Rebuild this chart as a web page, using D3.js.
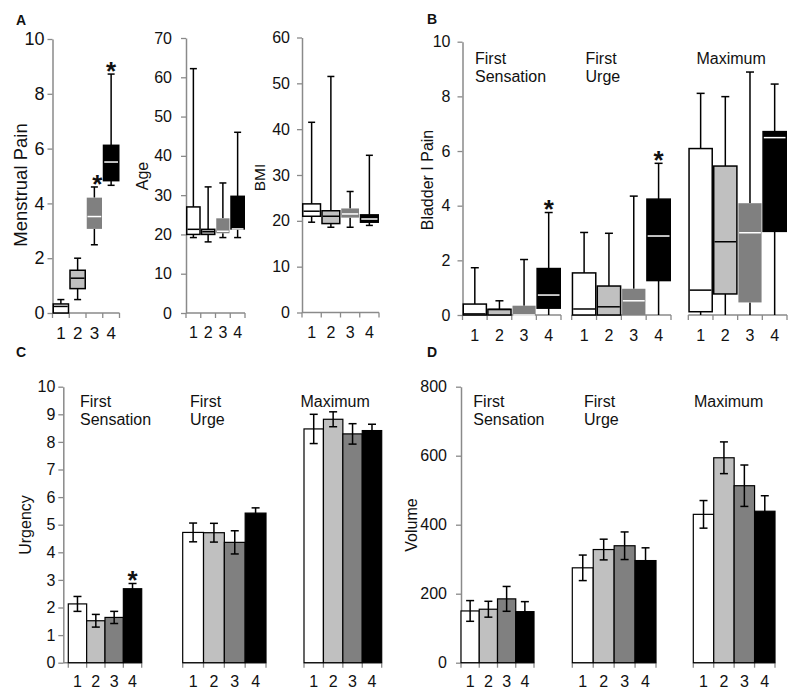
<!DOCTYPE html>
<html><head><meta charset="utf-8">
<script src="https://cdn.jsdelivr.net/npm/d3@7"></script>
<style>
body{margin:0;background:#fff}
svg{display:block}
text{font-family:"Liberation Sans",Arial,sans-serif;fill:#111}
</style>
</head><body>
<svg id="chart" width="800" height="700"></svg>
<script>
// ---------------- DATA ----------------
const groups = ["1", "2", "3", "4"];
const phases = ["First Sensation", "First Urge", "Maximum"];
// box statistics per group: [min, q1, median, q3, max]
const menstrualPain = [[0, 0, 0.24, 0.33, 0.49], [0.49, 0.89, 1.27, 1.56, 2.0], [2.49, 3.07, 3.52, 4.21, 4.6], [4.66, 4.83, 5.51, 6.12, 8.72]];
const age = [[19.2, 20, 21.3, 27.0, 62.2], [18.1, 20, 20.7, 21.3, 32.1], [19.2, 20.3, 20.8, 24.1, 33.1], [19.2, 21.4, 21.4, 29.7, 46]];
const bmi = [[19.7, 21.0, 22.1, 23.7, 41.5], [18.6, 19.4, 21.0, 22.2, 51.5], [18.6, 20.7, 21.5, 22.7, 26.4], [19.0, 19.7, 20.4, 21.3, 34.3]];
const bladderFirstSensation = [[0, 0, 0.04, 0.4, 1.73], [0, 0, 0.2, 0.21, 0.52], [0, 0, 0, 0.34, 2.03], [0, 0.25, 0.73, 1.7, 3.75]];
const bladderFirstUrge = [[0, 0, 0.22, 1.54, 3.02], [0, 0, 0.3, 1.06, 2.99], [0, 0, 0.52, 0.96, 4.35], [0, 1.26, 2.89, 4.24, 5.55]];
const bladderMaximum = [[0, 0.12, 0.91, 6.09, 8.11], [0, 0.77, 2.68, 5.45, 7.99], [0, 0.46, 3.01, 4.09, 8.89], [0, 3.06, 6.49, 6.71, 8.45]];
// bar charts: mean and error (SE) per phase, per group
const urgencyMean = [[2.13, 1.52, 1.64, 2.68], [4.72, 4.71, 4.36, 5.42], [8.47, 8.82, 8.29, 8.41]];
const urgencyErr = [[0.27, 0.23, 0.22, 0.19], [0.34, 0.34, 0.42, 0.19], [0.53, 0.27, 0.37, 0.23]];
const volumeMean = [[150, 155, 185, 148], [275, 328, 339, 296], [430, 594, 513, 439]];
const volumeErr = [[30, 23, 36, 29], [37, 30, 40, 37], [40, 46, 60, 45]];
// significance markers
const menstrualSig = [0, 0, 1, 1];
const bladderSig = [[0, 0, 0, 1], [0, 0, 0, 1], [0, 0, 0, 0]];
const urgencySig = [[0, 0, 0, 1], [0, 0, 0, 0], [0, 0, 0, 0]];
// tick values
const ticksMenstrual = [0, 2, 4, 6, 8, 10];
const ticksAge = [0, 10, 20, 30, 40, 50, 60, 70];
const ticksBmi = [0, 10, 20, 30, 40, 50, 60];
const ticksBladder = [0, 2, 4, 6, 8, 10];
const ticksUrgency = [0, 1, 2, 3, 4, 5, 6, 7, 8, 9, 10];
const ticksVolume = [0, 200, 400, 600, 800];

// ---------------- STYLE ----------------
const FILL = ["#ffffff", "#c0c0c0", "#808080", "#000000"];
const BOXSTROKE = ["#000", "#000", "none", "#000"];
const MEDIAN = ["#000", "#000", "#fff", "#fff"];
const AXIS = "#8a8a8a";
const FS = 16;

const svg = d3.select("#chart");

function yAxis(x0, y, ticks, pad, fs) {
  const g = svg.append("g").attr("transform", `translate(${x0},0)`)
    .call(d3.axisLeft(y).tickValues(ticks).tickSize(5).tickSizeOuter(0).tickPadding(pad));
  g.select(".domain").attr("stroke", AXIS).attr("stroke-width", 1.5);
  g.selectAll(".tick line").attr("stroke", AXIS).attr("stroke-width", 1.3);
  g.selectAll(".tick text").attr("font-size", fs || FS).attr("font-family", "Liberation Sans, Arial, sans-serif").attr("fill", "#111");
  return g;
}
function xAxis(x, yPos, x1, labelDy, fs) {
  const r = x.range();
  const start = x1 !== undefined ? x1 : r[0];
  svg.append("line").attr("x1", start).attr("x2", r[1]).attr("y1", yPos).attr("y2", yPos)
    .attr("stroke", AXIS).attr("stroke-width", 1.5);
  const edges = groups.map(g => x(g)).concat([r[1]]);
  svg.selectAll(null).data(edges).enter().append("line")
    .attr("x1", d => d).attr("x2", d => d).attr("y1", yPos).attr("y2", yPos + 5)
    .attr("stroke", AXIS).attr("stroke-width", 1.3);
  svg.selectAll(null).data(groups).enter().append("text")
    .attr("x", d => x(d) + x.bandwidth() / 2).attr("y", yPos + labelDy)
    .attr("text-anchor", "middle").attr("font-size", fs || FS).text(d => d);
}
function yTitle(txt, cx, cy, fs) {
  svg.append("text").attr("transform", `translate(${cx},${cy}) rotate(-90)`)
    .attr("text-anchor", "middle").attr("dominant-baseline", "central")
    .attr("font-size", fs || FS).text(txt);
}
function star(cx, cyTop) {
  svg.append("text").attr("x", cx).attr("y", cyTop - 9 + 0.56 * 26)
    .attr("text-anchor", "middle").attr("font-size", 26).attr("font-weight", "bold").text("*");
}
function boxes(x, y, data, capW, sig) {
  data.forEach((d, i) => {
    const [mn, q1, md, q3, mx] = d;
    const x0 = x(groups[i]), w = x.bandwidth(), cx = x0 + w / 2;
    const g = svg.append("g");
    g.append("line").attr("x1", cx).attr("x2", cx).attr("y1", y(mx)).attr("y2", y(q3)).attr("stroke", "#000").attr("stroke-width", 1.5);
    g.append("line").attr("x1", cx).attr("x2", cx).attr("y1", y(q1)).attr("y2", y(mn)).attr("stroke", "#000").attr("stroke-width", 1.5);
    g.append("line").attr("x1", cx - capW / 2).attr("x2", cx + capW / 2).attr("y1", y(mx)).attr("y2", y(mx)).attr("stroke", "#000").attr("stroke-width", 1.5);
    if (mn > 0) g.append("line").attr("x1", cx - capW / 2).attr("x2", cx + capW / 2).attr("y1", y(mn)).attr("y2", y(mn)).attr("stroke", "#000").attr("stroke-width", 1.5);
    g.append("rect").attr("x", x0 + 0.75).attr("width", w - 1.5).attr("y", y(q3)).attr("height", Math.max(0.5, y(q1) - y(q3)))
      .attr("fill", FILL[i]).attr("stroke", BOXSTROKE[i]).attr("stroke-width", 1.5);
    g.append("line").attr("x1", x0 + 1.5).attr("x2", x0 + w - 1.5).attr("y1", y(md)).attr("y2", y(md))
      .attr("stroke", MEDIAN[i]).attr("stroke-width", 1.5);
    if (sig && sig[i]) star(cx + (i === 2 ? 3 : 0), y(mx));
  });
}
function bars(x, y, means, errs, sig) {
  means.forEach((m, i) => {
    const x0 = x(groups[i]), w = x.bandwidth(), cx = x0 + w / 2;
    svg.append("rect").attr("x", x0).attr("width", w).attr("y", y(m)).attr("height", y(0) - y(m))
      .attr("fill", FILL[i]).attr("stroke", "#000").attr("stroke-width", 1.2);
    const e = errs[i], capW = 8;
    svg.append("line").attr("x1", cx).attr("x2", cx).attr("y1", y(m + e)).attr("y2", y(m - e)).attr("stroke", "#000").attr("stroke-width", 1.5);
    [m + e, m - e].forEach(v => svg.append("line").attr("x1", cx - capW / 2).attr("x2", cx + capW / 2)
      .attr("y1", y(v)).attr("y2", y(v)).attr("stroke", "#000").attr("stroke-width", 1.5));
    if (sig && sig[i]) star(cx, y(m + e));
  });
}
function phaseLabels(xs, yTop) {
  phases.forEach((p, k) => {
    const words = p.split(" ");
    const t = svg.append("text").attr("x", xs[k]).attr("y", yTop).attr("font-size", FS);
    words.forEach((w, j) => t.append("tspan").attr("x", xs[k]).attr("dy", j === 0 ? 0 : 18).text(w));
  });
}
function panelLetter(l, x, y) {
  svg.append("text").attr("x", x).attr("y", y).attr("font-size", 14).attr("font-weight", "bold").text(l);
}

// ---------------- PANEL A ----------------
panelLetter("A", 16, 25);
{
  const y = d3.scaleLinear().domain([0, 10]).range([313, 39]);
  const x = d3.scaleBand().domain(groups).range([52.5, 119.5]);
  yAxis(52.5, y, ticksMenstrual, 3, 18);
  xAxis(x, 313, undefined, 26, 17);
  boxes(x, y, menstrualPain, 7, menstrualSig);
  yTitle("Menstrual Pain", 20, 185, 18.5);
}
{
  const y = d3.scaleLinear().domain([0, 70]).range([313, 38]);
  const x = d3.scaleBand().domain(groups).range([186, 245]);
  yAxis(186, y, ticksAge, 9, 16);
  xAxis(x, 313, undefined, 25, 16);
  boxes(x, y, age, 7);
  yTitle("Age", 142.5, 176, 16);
}
{
  const y = d3.scaleLinear().domain([0, 60]).range([312.5, 37.5]);
  const x = d3.scaleBand().domain(groups).range([302, 379]);
  yAxis(302, y, ticksBmi, 7, 16);
  xAxis(x, 312.5, undefined, 25, 16);
  boxes(x, y, bmi, 7);
  yTitle("BMI", 259, 177.5, 15.5);
}

// ---------------- PANEL B ----------------
panelLetter("B", 427, 24);
{
  const y = d3.scaleLinear().domain([0, 10]).range([315, 41.7]);
  yAxis(462.5, y, ticksBladder, 7, 16);
  const ranges = [[462.5, 561], [571.7, 671], [688.3, 787]];
  const sets = [bladderFirstSensation, bladderFirstUrge, bladderMaximum];
  ranges.forEach((r, k) => {
    const x = d3.scaleBand().domain(groups).range(r);
    xAxis(x, 315, undefined, 26, 16);
    boxes(x, y, sets[k], 8, bladderSig[k]);
  });
  phaseLabels([475, 585.5, 696.5], 64);
  yTitle("Bladder I Pain", 427.5, 180, 16);
}

// ---------------- PANEL C ----------------
panelLetter("C", 16, 357);
{
  const y = d3.scaleLinear().domain([0, 10]).range([662.7, 386.7]);
  yAxis(63.3, y, ticksUrgency, 3, 16);
  const ranges = [[68.3, 141.7], [182.7, 266], [304, 381.7]];
  ranges.forEach((r, k) => {
    const x = d3.scaleBand().domain(groups).range(r);
    xAxis(x, 662.7, k === 0 ? 63.3 : undefined, 24.5, 16);
    bars(x, y, urgencyMean[k], urgencyErr[k], urgencySig[k]);
  });
  phaseLabels([80, 190, 300.5], 407);
  yTitle("Urgency", 25, 525, 16);
}

// ---------------- PANEL D ----------------
panelLetter("D", 427, 357);
{
  const y = d3.scaleLinear().domain([0, 800]).range([662.7, 386.7]);
  yAxis(461, y, ticksVolume, 9, 16);
  const ranges = [[461, 534], [572.3, 656], [693.3, 775]];
  ranges.forEach((r, k) => {
    const x = d3.scaleBand().domain(groups).range(r);
    xAxis(x, 662.7, undefined, 24.5, 16);
    bars(x, y, volumeMean[k], volumeErr[k]);
  });
  phaseLabels([473.3, 584, 694], 407);
  yTitle("Volume", 411, 525, 16);
}
</script>
</body></html>
